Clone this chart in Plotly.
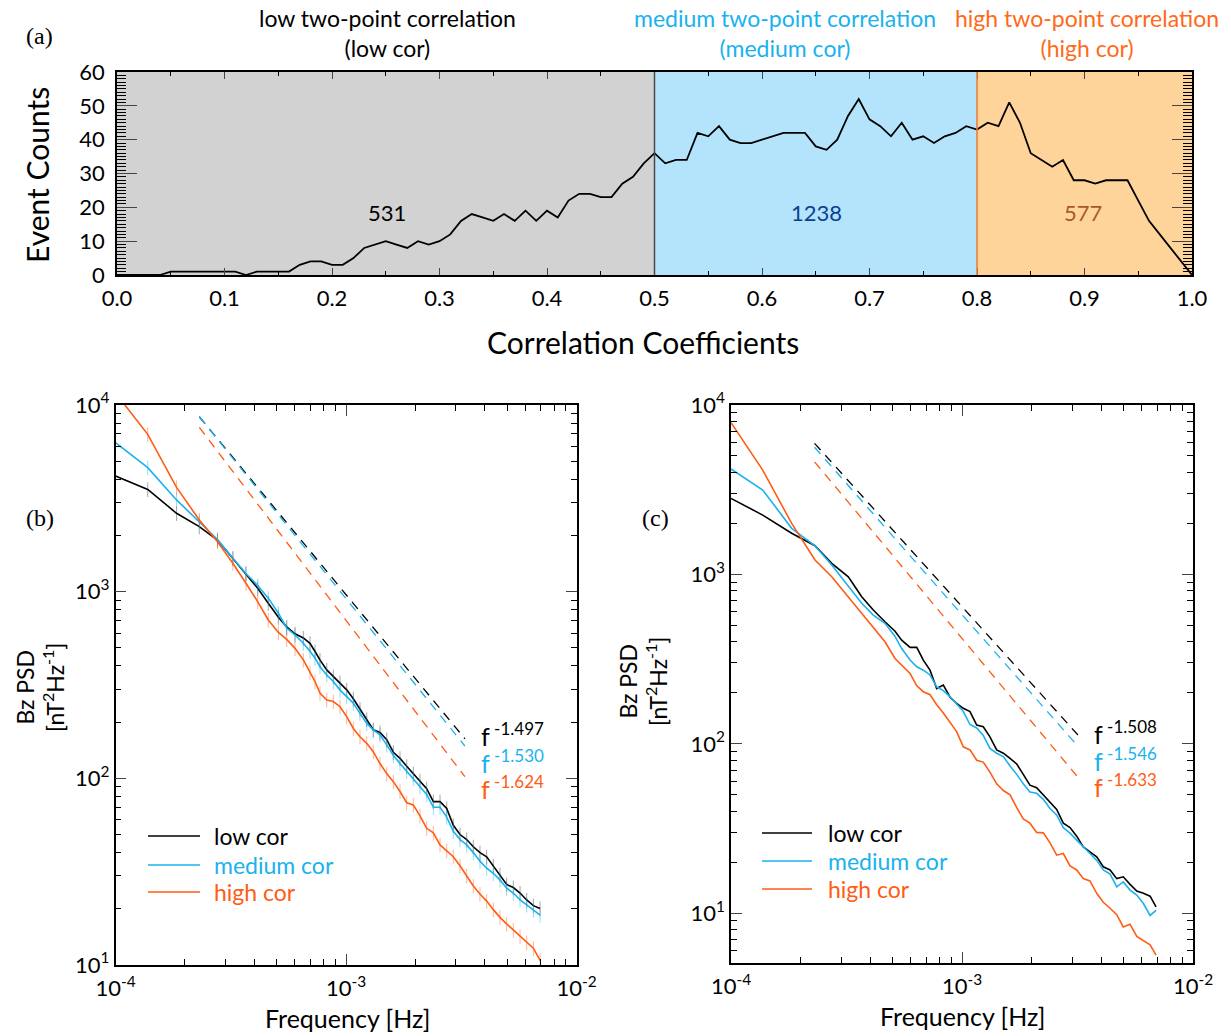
import plotly.graph_objects as go

FONT = "Lato"
SERIF = "Liberation Serif"

# ---------------- panel (a) data ----------------
corr_coef = [0.00, 0.01, 0.02, 0.03, 0.04, 0.05, 0.06, 0.07, 0.08, 0.09,
             0.10, 0.11, 0.12, 0.13, 0.14, 0.15, 0.16, 0.17, 0.18, 0.19,
             0.20, 0.21, 0.22, 0.23, 0.24, 0.25, 0.26, 0.27, 0.28, 0.29,
             0.30, 0.31, 0.32, 0.33, 0.34, 0.35, 0.36, 0.37, 0.38, 0.39,
             0.40, 0.41, 0.42, 0.43, 0.44, 0.45, 0.46, 0.47, 0.48, 0.49,
             0.50, 0.51, 0.52, 0.53, 0.54, 0.55, 0.56, 0.57, 0.58, 0.59,
             0.60, 0.61, 0.62, 0.63, 0.64, 0.65, 0.66, 0.67, 0.68, 0.69,
             0.70, 0.71, 0.72, 0.73, 0.74, 0.75, 0.76, 0.77, 0.78, 0.79,
             0.80, 0.81, 0.82, 0.83, 0.84, 0.85, 0.86, 0.87, 0.88, 0.89,
             0.90, 0.91, 0.92, 0.93, 0.94, 0.95, 0.96, 0.97, 0.98, 0.99,
             1.00]
event_counts = [0, 0, 0, 0, 0, 1, 1, 1, 1, 1,
                1, 1, 0, 1, 1, 1, 1, 3, 4, 4,
                3, 3, 5, 8, 9, 10, 9, 8, 10, 9,
                10, 12, 16, 18, 17, 16, 18, 16, 19, 16,
                19, 17, 22, 24, 24, 23, 23, 27, 29, 33,
                36, 33, 34, 34, 42, 41, 44, 40, 39, 39,
                40, 41, 42, 42, 42, 38, 37, 40, 47, 52,
                46, 44, 41, 45, 40, 41, 39, 41, 42, 44,
                43, 45, 44, 51, 45, 36, 34, 32, 34, 28,
                28, 27, 28, 28, 28, 22, 16, 12, 8, 4,
                0]
region_edges = [0.0, 0.5, 0.8, 1.0]
region_counts = [531, 1238, 577]
region_titles = ["low two-point correlation<br>(low cor)",
                 "medium two-point correlation<br>(medium cor)",
                 "high two-point correlation<br>(high cor)"]

# ---------------- panel (b) data ----------------
freq_b = [1.00e-4, 1.38e-4, 1.84e-4, 2.31e-4, 2.77e-4, 3.23e-4, 3.68e-4, 4.14e-4, 4.60e-4, 5.09e-4,
          5.53e-4, 6.01e-4, 6.53e-4, 6.98e-4, 7.34e-4, 7.71e-4, 8.25e-4, 8.81e-4, 9.42e-4, 1.007e-3,
          1.076e-3, 1.15e-3, 1.23e-3, 1.313e-3, 1.404e-3, 1.502e-3, 1.604e-3, 1.715e-3, 1.834e-3, 1.959e-3,
          2.094e-3, 2.239e-3, 2.393e-3, 2.558e-3, 2.735e-3, 2.921e-3, 3.123e-3, 3.339e-3, 3.567e-3, 3.813e-3,
          4.076e-3, 4.356e-3, 4.656e-3, 4.977e-3, 5.32e-3, 5.69e-3, 6.08e-3, 6.50e-3, 6.95e-3]
psd_low_b = [4170, 3530, 2630, 2230, 1890, 1510, 1254, 1043, 867, 730,
             648, 595, 565, 529, 478, 431, 381, 351, 327, 298,
             267, 235, 207, 182, 176, 161, 138, 128, 116, 106,
             97, 88, 75, 75, 69, 56, 50, 47, 43, 40,
             38, 34, 30.5, 27, 26, 24.3, 22.3, 20.8, 20.1]
psd_med_b = [6290, 4620, 3100, 2370, 1905, 1510, 1250, 1080, 923, 766,
             637, 586, 529, 480, 440, 396, 358, 330, 297, 274,
             253, 223, 197, 182, 171, 151, 133, 120, 109, 100,
             90, 82, 70, 70, 62, 52, 47, 44, 40, 36,
             33, 31, 28.6, 25.8, 24.3, 22.3, 21, 19.7, 18.5]
psd_high_b = [11600, 6960, 3620, 2420, 1850, 1420, 1110, 884, 705, 605,
              555, 497, 431, 370, 330, 286, 263, 258, 242, 214,
              185, 167, 154, 139, 120, 106, 96, 85, 74, 72,
              63, 54, 51, 44, 41, 38, 34, 30, 26.5, 24,
              22, 19.8, 18, 16.6, 15.4, 14.2, 13.2, 12.3, 10.6]
fit_freq_b = [2.31e-4, 3.28e-3]
fit_low_b = [8650, 163]
fit_med_b = [8650, 149]
fit_high_b = [7590, 102]
slopes_b = ["-1.497", "-1.530", "-1.624"]

# ---------------- panel (c) data ----------------
freq_c = [1.00e-4, 1.372e-4, 1.831e-4, 2.31e-4, 2.73e-4, 3.22e-4, 3.68e-4, 4.13e-4, 4.64e-4, 5.13e-4,
          5.48e-4, 5.96e-4, 6.37e-4, 6.80e-4, 7.27e-4, 7.77e-4, 8.30e-4, 8.87e-4, 9.48e-4, 1.013e-3,
          1.083e-3, 1.158e-3, 1.236e-3, 1.321e-3, 1.413e-3, 1.510e-3, 1.614e-3, 1.726e-3, 1.842e-3, 1.968e-3,
          2.104e-3, 2.249e-3, 2.404e-3, 2.570e-3, 2.745e-3, 2.935e-3, 3.137e-3, 3.35e-3, 3.58e-3, 3.83e-3,
          4.09e-3, 4.375e-3, 4.677e-3, 4.99e-3, 5.34e-3, 5.71e-3, 6.10e-3, 6.52e-3, 6.92e-3]
psd_low_c = [2810, 2240, 1750, 1476, 1161, 968, 738, 616, 525, 462,
             409, 371, 371, 312, 272, 212, 222, 189, 173, 162,
             155, 129, 126, 110, 92, 88, 82, 76, 66, 57,
             55, 50, 45, 41, 34, 32, 28.5, 24.6, 23, 21.5,
             18.8, 18, 16, 16.4, 14.8, 13.5, 13.1, 12.6, 10.9]
psd_med_c = [4190, 3150, 1871, 1476, 1135, 845, 675, 575, 515, 430,
             365, 312, 285, 272, 255, 217, 206, 190, 172, 155,
             130, 124, 112, 94, 88, 84, 74, 66, 58, 52,
             51, 47, 41.5, 38, 32, 29.7, 27, 24.5, 22.5, 20.5,
             18, 17, 14.3, 15.3, 13.7, 12.8, 11.4, 9.7, 10.4]
psd_high_c = [7870, 4130, 2000, 1216, 968, 738, 589, 490, 400, 319,
              291, 260, 220, 203, 195, 170, 152, 133, 118, 96,
              92, 80, 78, 68, 58, 53, 50, 42, 36, 34,
              30, 29.8, 26, 22, 22.5, 19, 18, 16, 15.5, 13.1,
              11.6, 10.7, 9.8, 8.3, 8.6, 7.3, 6.9, 6.5, 5.65]
fit_freq_c = [2.30e-4, 3.19e-3]
fit_low_c = [5940, 112]
fit_med_c = [5630, 96]
fit_high_c = [4620, 63]
slopes_c = ["-1.508", "-1.546", "-1.633"]

series_names = ["low cor", "medium cor", "high cor"]
series_colors = ["#000000", "#1ab2ee", "#ff5c14"]
err_colors = ["rgba(0,0,0,0.35)", "rgba(26,178,238,0.45)", "rgba(255,92,20,0.45)"]

W, H = 1231, 1036


def px(x):
    return x / W


def py(y):
    return 1 - y / H


# ---------------- figure ----------------
fig = go.Figure()

fig.add_trace(go.Scatter(x=corr_coef, y=event_counts, mode="lines",
                         line=dict(color="black", width=1.8),
                         xaxis="x", yaxis="y", showlegend=False))

psd_b = [psd_low_b, psd_med_b, psd_high_b]
fits_b = [fit_low_b, fit_med_b, fit_high_b]
psd_c = [psd_low_c, psd_med_c, psd_high_c]
fits_c = [fit_low_c, fit_med_c, fit_high_c]

for i in range(3):
    fig.add_trace(go.Scatter(
        x=freq_b, y=psd_b[i], mode="lines", name=series_names[i],
        line=dict(color=series_colors[i], width=1.6),
        error_y=dict(type="percent", value=9, color=err_colors[i], thickness=1, width=0),
        xaxis="x2", yaxis="y2", showlegend=False))
for i in range(3):
    fig.add_trace(go.Scatter(
        x=fit_freq_b, y=fits_b[i], mode="lines",
        line=dict(color=series_colors[i], width=1.3, dash="9px,7px"),
        xaxis="x2", yaxis="y2", showlegend=False))
for i in range(3):
    fig.add_trace(go.Scatter(
        x=freq_c, y=psd_c[i], mode="lines", name=series_names[i],
        line=dict(color=series_colors[i], width=1.6),
        xaxis="x3", yaxis="y3", showlegend=False))
for i in range(3):
    fig.add_trace(go.Scatter(
        x=fit_freq_c, y=fits_c[i], mode="lines",
        line=dict(color=series_colors[i], width=1.3, dash="9px,7px"),
        xaxis="x3", yaxis="y3", showlegend=False))

# ---------------- shapes (panel a shading + legend keys) ----------------
region_fill = ["#d2d2d2", "#b3e4fb", "#fed49b"]
shapes = []
for i in range(3):
    shapes.append(dict(type="rect", xref="x", yref="y domain",
                       x0=region_edges[i], x1=region_edges[i + 1], y0=0, y1=1,
                       fillcolor=region_fill[i], line=dict(width=0), layer="below"))
shapes.append(dict(type="line", xref="x", yref="y domain", x0=region_edges[1], x1=region_edges[1],
                   y0=0, y1=1, line=dict(color="#4a4a4a", width=1.5)))
shapes.append(dict(type="line", xref="x", yref="y domain", x0=region_edges[2], x1=region_edges[2],
                   y0=0, y1=1, line=dict(color="#ee7a30", width=1.5)))

# legend keys (b) and (c)
leg_b_rows = [836, 865, 892]
leg_c_rows = [833, 861, 889]
for i in range(3):
    shapes.append(dict(type="line", xref="paper", yref="paper",
                       x0=px(148), x1=px(200), y0=py(leg_b_rows[i]), y1=py(leg_b_rows[i]),
                       line=dict(color=series_colors[i], width=1.6)))
    shapes.append(dict(type="line", xref="paper", yref="paper",
                       x0=px(762), x1=px(812), y0=py(leg_c_rows[i]), y1=py(leg_c_rows[i]),
                       line=dict(color=series_colors[i], width=1.6)))

# ---------------- annotations ----------------
ann = []


def add_text(text, x, y, size, color="black", family=FONT, xanchor="center", angle=0, **kw):
    ann.append(dict(text=text, x=x, y=y, xref="paper", yref="paper", showarrow=False,
                    xanchor=xanchor, yanchor="middle", textangle=angle,
                    font=dict(family=family, size=size, color=color), **kw))


title_colors = ["#000000", "#1ab2ee", "#ff6a1a"]
title_x = [387, 785, 1087]
for i in range(3):
    add_text(region_titles[i], px(title_x[i]), py(33), 23, title_colors[i], align="center")

count_colors = ["#000000", "#0c3f91", "#a85a25"]
count_x = [0.251, 0.651, 0.8986]
for i in range(3):
    ann.append(dict(text=str(region_counts[i]), x=count_x[i], y=18.5, xref="x", yref="y",
                    showarrow=False, font=dict(family=FONT, size=22, color=count_colors[i])))

add_text("(a)", px(40), py(36), 24, family=SERIF)
add_text("(b)", px(40), py(518), 24, family=SERIF)
add_text("(c)", px(655), py(518), 24, family=SERIF)

add_text("Correlation Coefficients", px(643), py(342), 30)
add_text("Event Counts", px(37), py(175), 30, angle=-90)

add_text("Frequency [Hz]", px(347), py(1018), 25)
add_text("Frequency [Hz]", px(963), py(1016), 25)
add_text("Bz PSD<br>[nT<sup>2</sup>Hz<sup>-1</sup>]", px(40), py(687), 23, angle=-90)
add_text("Bz PSD<br>[nT<sup>2</sup>Hz<sup>-1</sup>]", px(643), py(682), 23, angle=-90)

slope_rows_b = [734, 761, 787]
slope_rows_c = [732, 759, 785]
for i in range(3):
    add_text("f<sup><span style='font-size:17px'> %s</span></sup>" % slopes_b[i],
             px(479), py(slope_rows_b[i]), 25, series_colors[i], xanchor="left")
    add_text("f<sup><span style='font-size:17px'> %s</span></sup>" % slopes_c[i],
             px(1092), py(slope_rows_c[i]), 25, series_colors[i], xanchor="left")

for i in range(3):
    add_text(series_names[i], px(212), py(leg_b_rows[i]), 23, series_colors[i], xanchor="left")
    add_text(series_names[i], px(826), py(leg_c_rows[i]), 23, series_colors[i], xanchor="left")

# ---------------- axes ----------------
axis_common = dict(showline=True, linecolor="black", linewidth=1.5, mirror="allticks",
                   ticks="inside", showgrid=False, zeroline=False, automargin=False,
                   tickfont=dict(family=FONT, size=22, color="black"))

x_major = [0.0, 0.1, 0.2, 0.3, 0.4, 0.5, 0.6, 0.7, 0.8, 0.9, 1.0]
x_labels = ["0.0", "0.1", "0.2", "0.3", "0.4", "0.5", "0.6", "0.7", "0.8", "0.9", "1.0"]
x_minor = [0.05, 0.15, 0.25, 0.35, 0.45, 0.55, 0.65, 0.75, 0.85, 0.95]
y_major = [0, 10, 20, 30, 40, 50, 60]

log_x_major = [1e-4, 1e-3, 1e-2]
log_x_labels = ["10<sup>-4</sup>", "10<sup>-3</sup>", "10<sup>-2</sup>"]
log_x_minor = [2e-4, 3e-4, 4e-4, 5e-4, 6e-4, 7e-4, 8e-4, 9e-4,
               2e-3, 3e-3, 4e-3, 5e-3, 6e-3, 7e-3, 8e-3, 9e-3]
log_y_major = [1e1, 1e2, 1e3, 1e4]
log_y_labels = ["10<sup>1</sup>", "10<sup>2</sup>", "10<sup>3</sup>", "10<sup>4</sup>"]
log_y_minor = [6, 7, 8, 9, 20, 30, 40, 50, 60, 70, 80, 90,
               200, 300, 400, 500, 600, 700, 800, 900,
               2000, 3000, 4000, 5000, 6000, 7000, 8000, 9000]

minor_log_x = dict(tickmode="array", tickvals=log_x_minor, ticklen=6, ticks="inside", tickcolor="black")
minor_log_y = dict(tickmode="array", tickvals=log_y_minor, ticklen=6, ticks="inside", tickcolor="black")

fig.update_layout(
    width=W, height=H,
    margin=dict(l=0, r=0, t=0, b=0, pad=0, autoexpand=False),
    paper_bgcolor="white", plot_bgcolor="rgba(0,0,0,0)",
    font=dict(family=FONT, color="black"),
    showlegend=False,
    shapes=shapes, annotations=ann,
    xaxis=dict(axis_common, domain=[px(117), px(1192)], anchor="y", range=[0, 1],
               tickmode="array", tickvals=x_major, ticktext=x_labels, ticklen=7, ticklabelstandoff=3,
               minor=dict(tickmode="array", tickvals=x_minor, ticklen=4, ticks="inside", tickcolor="black")),
    yaxis=dict(axis_common, domain=[py(275), py(72)], anchor="x", range=[0, 60],
               tickmode="array", tickvals=y_major, ticklen=20, ticklabelstandoff=6,
               minor=dict(dtick=1, ticklen=9, ticks="inside", tickcolor="black")),
    xaxis2=dict(axis_common, type="log", domain=[px(115.5), px(576.5)], anchor="y2",
                range=[-4, -2], tickmode="array", tickvals=log_x_major, ticktext=log_x_labels,
                ticklen=11, ticklabelstandoff=3, minor=minor_log_x),
    yaxis2=dict(axis_common, type="log", domain=[py(965), py(405)], anchor="x2",
                range=[1, 4], tickmode="array", tickvals=log_y_major, ticktext=log_y_labels,
                ticklen=11, minor=minor_log_y),
    xaxis3=dict(axis_common, type="log", domain=[px(731), px(1193)], anchor="y3",
                range=[-4, -2], tickmode="array", tickvals=log_x_major, ticktext=log_x_labels,
                ticklen=11, ticklabelstandoff=3, minor=minor_log_x),
    yaxis3=dict(axis_common, type="log", domain=[py(963), py(405)], anchor="x3",
                range=[0.706, 4], tickmode="array", tickvals=log_y_major, ticktext=log_y_labels,
                ticklen=11, minor=minor_log_y),
)

fig.write_html("out.html")
